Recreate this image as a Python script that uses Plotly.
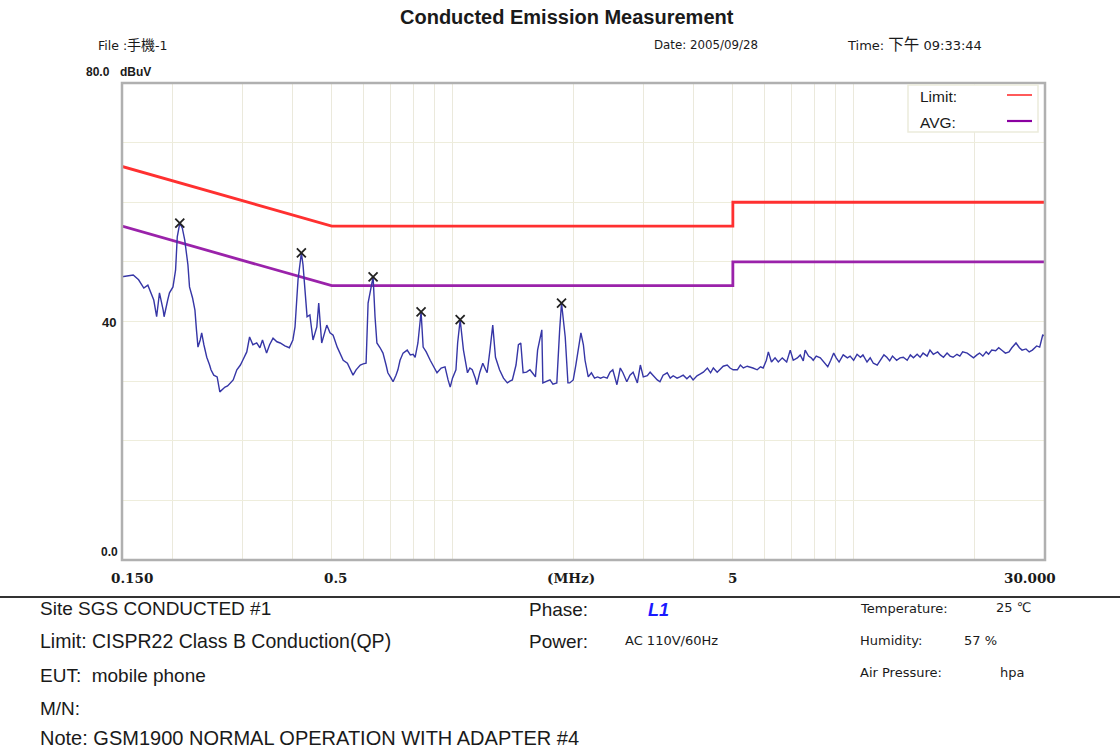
import math
import plotly.graph_objects as go

# ---- measured spectrum, L1 phase (MHz, dBuV) ----
meas_freq = [
    0.150, 0.155, 0.160, 0.165, 0.170, 0.174, 0.176, 0.180, 0.183, 0.186,
    0.190, 0.191, 0.195, 0.197, 0.201, 0.204, 0.206, 0.209, 0.212, 0.215,
    0.219, 0.221, 0.225, 0.228, 0.230, 0.232, 0.235, 0.237, 0.240, 0.244,
    0.248, 0.250, 0.254, 0.259, 0.263, 0.268, 0.271, 0.275, 0.279, 0.284,
    0.290, 0.296, 0.300, 0.307, 0.312, 0.318, 0.325, 0.331, 0.336, 0.344,
    0.350, 0.357, 0.365, 0.372, 0.382, 0.392, 0.400, 0.405, 0.412, 0.420,
    0.424, 0.427, 0.434, 0.441, 0.449, 0.459, 0.464, 0.472, 0.481, 0.486,
    0.495, 0.504, 0.516, 0.525, 0.534, 0.547, 0.555, 0.565, 0.575, 0.589,
    0.599, 0.609, 0.616, 0.627, 0.634, 0.641, 0.648, 0.660, 0.671, 0.683,
    0.690, 0.703, 0.711, 0.723, 0.731, 0.740, 0.753, 0.771, 0.785, 0.798,
    0.807, 0.820, 0.835, 0.845, 0.860, 0.880, 0.895, 0.915, 0.937, 0.958,
    0.975, 0.987, 1.000, 1.020, 1.030, 1.045, 1.065, 1.090, 1.105, 1.120,
    1.140, 1.150, 1.170, 1.190, 1.210, 1.220, 1.240, 1.260, 1.280, 1.310,
    1.340, 1.370, 1.390, 1.410, 1.440, 1.460, 1.480, 1.500, 1.530, 1.560,
    1.590, 1.610, 1.630, 1.670, 1.680, 1.710, 1.750, 1.780, 1.820, 1.850,
    1.870, 1.910, 1.940, 1.960, 2.000, 2.030, 2.060, 2.090, 2.120, 2.140,
    2.180, 2.220, 2.260, 2.300, 2.340, 2.380, 2.430, 2.470, 2.510, 2.570,
    2.620, 2.660, 2.720, 2.770, 2.820, 2.890, 2.940, 2.990, 3.060, 3.110,
    3.160, 3.240, 3.290, 3.350, 3.430, 3.490, 3.550, 3.630, 3.690, 3.760,
    3.840, 3.910, 3.980, 4.070, 4.150, 4.220, 4.320, 4.400, 4.470, 4.570,
    4.650, 4.730, 4.840, 4.920, 5.010, 5.130, 5.220, 5.310, 5.430, 5.520,
    5.610, 5.750, 5.860, 5.950, 6.060, 6.130, 6.240, 6.370, 6.490, 6.640,
    6.810, 6.950, 7.070, 7.240, 7.360, 7.490, 7.570, 7.720, 7.840, 7.930,
    8.070, 8.260, 8.420, 8.620, 8.770, 8.920, 9.050, 9.200, 9.420, 9.650,
    9.800, 10.00, 10.20, 10.40, 10.55, 10.80, 11.00, 11.20, 11.45, 11.65,
    11.90, 12.10, 12.30, 12.50, 12.80, 13.05, 13.30, 13.60, 13.85, 14.10,
    14.40, 14.65, 14.90, 15.25, 15.50, 15.80, 16.20, 16.45, 16.75, 17.10,
    17.40, 17.70, 18.10, 18.40, 18.70, 19.20, 19.50, 19.90, 20.30, 20.60,
    21.00, 21.40, 21.70, 22.10, 22.60, 23.00, 23.50, 23.90, 24.40, 24.80,
    25.40, 25.90, 26.30, 26.90, 27.40, 27.90, 28.60, 29.10, 29.60, 30.00,
]
meas_level = [
    47.5, 47.6, 47.8, 47.0, 45.6, 46.1, 45.3, 43.6, 40.8, 44.8,
    41.9, 40.8, 43.6, 44.8, 45.8, 48.6, 54.2, 56.5, 55.7, 53.7,
    49.5, 45.8, 43.9, 41.9, 38.6, 35.7, 36.9, 38.1, 36.1, 34.0,
    32.7, 31.9, 31.0, 30.7, 28.2, 28.8, 29.0, 29.2, 29.7, 30.2,
    31.9, 32.7, 33.5, 34.9, 37.4, 36.1, 36.4, 35.6, 36.9, 34.7,
    36.1, 37.2, 36.6, 36.4, 35.9, 35.6, 36.9, 39.1, 47.0, 51.5,
    49.5, 46.5, 40.8, 41.1, 36.9, 39.1, 43.1, 36.4, 38.6, 39.4,
    38.1, 37.7, 35.7, 34.7, 33.5, 33.0, 32.2, 31.0, 31.9, 32.7,
    32.9, 33.0, 43.1, 46.1, 47.5, 40.8, 36.4, 35.6, 34.7, 32.7,
    31.4, 30.5, 29.9, 31.0, 31.9, 33.5, 34.7, 35.2, 34.4, 34.5,
    34.0, 36.4, 41.6, 35.7, 34.9, 33.5, 32.5, 31.4, 32.2, 32.4,
    30.2, 29.0, 30.5, 31.9, 36.4, 40.3, 35.2, 31.4, 32.2, 31.9,
    30.5, 29.4, 31.5, 33.0, 31.9, 31.4, 35.2, 39.4, 34.0, 31.9,
    30.5, 29.7, 30.0, 30.2, 32.7, 36.1, 36.4, 31.4, 31.5, 31.9,
    31.2, 30.7, 35.2, 38.6, 29.7, 29.9, 30.2, 29.5, 29.7, 38.6,
    43.1, 37.4, 29.7, 29.7, 30.2, 32.7, 35.2, 38.1, 36.1, 33.5,
    30.7, 31.4, 30.5, 30.7, 30.5, 30.7, 30.5, 31.5, 31.9, 29.4,
    32.2, 31.4, 29.9, 31.0, 31.5, 29.7, 32.7, 30.7, 30.9, 31.5,
    31.0, 30.2, 29.9, 31.0, 31.4, 30.5, 30.9, 30.5, 30.7, 31.0,
    30.4, 30.9, 30.2, 30.9, 31.2, 31.5, 32.2, 31.4, 32.2, 31.5,
    32.0, 32.5, 32.7, 32.2, 31.9, 31.9, 32.7, 32.2, 32.5, 32.4,
    32.2, 31.9, 32.4, 32.2, 33.5, 34.9, 33.2, 33.9, 33.2, 33.9,
    33.2, 35.2, 33.5, 33.9, 34.4, 33.4, 35.2, 34.2, 33.9, 33.5,
    34.2, 33.9, 33.2, 32.4, 33.5, 34.7, 33.9, 33.2, 34.4, 33.9,
    34.2, 33.5, 34.5, 34.0, 34.4, 33.2, 33.9, 33.0, 32.7, 33.5,
    34.4, 34.0, 33.4, 34.2, 33.5, 33.9, 34.0, 33.5, 34.4, 33.9,
    34.5, 34.0, 34.7, 34.2, 35.2, 34.5, 34.9, 34.4, 34.0, 34.7,
    34.2, 34.0, 34.5, 34.2, 34.9, 34.7, 34.4, 33.9, 34.4, 34.7,
    34.2, 34.9, 34.5, 35.2, 35.1, 35.6, 35.1, 34.7, 34.9, 35.6,
    36.4, 35.6, 35.2, 35.4, 34.9, 35.2, 35.9, 35.7, 37.7, 37.6,
]

# ---- marked peaks ----
peak_freq = [0.209, 0.420, 0.634, 0.835, 1.045, 1.870]
peak_level = [56.5, 51.5, 47.5, 41.6, 40.3, 43.1]

# ---- CISPR22 Class B limits ----
limit_freq = [0.15, 0.5, 0.5, 5.0, 5.0, 30.0]
qp_limit = [66, 56, 56, 56, 60, 60]
avg_limit = [56, 46, 46, 46, 50, 50]

grid_freqs = [0.2, 0.3, 0.4, 0.5, 0.6, 0.7, 0.8, 0.9, 1, 2, 3, 4, 5, 6, 7, 8, 9, 10, 20]

# plot-area placement in window pixels
L, R, T, B = 122, 1045, 83, 560
W, H = 1120, 751


def px(x):
    return (x - L) / (R - L)


def py(y):
    return (B - y) / (B - T)


SANS = "Liberation Sans, Arial, Noto Sans CJK TC, sans-serif"
WIDE = "DejaVu Sans, Noto Sans CJK TC, sans-serif"
AXIS = "DejaVu Serif, serif"

fig = go.Figure()
fig.add_trace(go.Scatter(x=limit_freq, y=qp_limit, mode="lines",
                         line=dict(color="#ff3030", width=2.8), hoverinfo="skip"))
fig.add_trace(go.Scatter(x=limit_freq, y=avg_limit, mode="lines",
                         line=dict(color="#9a22aa", width=2.8), hoverinfo="skip"))
fig.add_trace(go.Scatter(x=meas_freq, y=meas_level, mode="lines",
                         line=dict(color="#3636a6", width=1.4)))
fig.add_trace(go.Scatter(x=peak_freq, y=peak_level, mode="markers",
                         marker=dict(symbol="x-thin", size=9,
                                     line=dict(color="#222222", width=1.8))))

shapes = [
    # frame
    dict(type="rect", xref="paper", yref="paper", x0=0, x1=1, y0=0, y1=1,
         line=dict(color="#b0b0b0", width=2.5)),
    # legend box
    dict(type="rect", xref="paper", yref="paper",
         x0=px(908), x1=px(1038), y0=py(132), y1=py(85),
         line=dict(color="#ecebdc", width=1.5), fillcolor="white"),
    dict(type="line", xref="paper", yref="paper",
         x0=px(1007), x1=px(1032), y0=py(95), y1=py(95),
         line=dict(color="#ff4848", width=1.8)),
    dict(type="line", xref="paper", yref="paper",
         x0=px(1007), x1=px(1032), y0=py(121), y1=py(121),
         line=dict(color="#8a00a0", width=2.2)),
    # separator above the info block
    dict(type="line", xref="paper", yref="paper",
         x0=px(0), x1=px(W), y0=py(597), y1=py(597),
         line=dict(color="#333333", width=2)),
]

annotations = []


def text(x, y, s, size=12, bold=False, anchor="left", color="#1a1a1a",
         italic=False, family=SANS):
    if bold:
        s = "<b>" + s + "</b>"
    if italic:
        s = "<i>" + s + "</i>"
    annotations.append(dict(x=px(x), y=py(y), xref="paper", yref="paper", text=s,
                            showarrow=False, xanchor=anchor, yanchor="middle",
                            font=dict(size=size, color=color, family=family)))


text(567, 17, "Conducted Emission Measurement", size=20, bold=True, anchor="center")
text(96, 45, "File :<span style='font-size:14px'>手機</span>-1", size=12.5, family=WIDE)
text(652, 45, "Date: 2005/09/28", size=11.8, family=WIDE)
text(845, 45, "Time: <span style='font-size:15.5px'>下午</span> 09:33:44", size=13, family=WIDE)

# y-axis labels
text(84, 72, "80.0", size=12, bold=True)
text(118, 72, "dBuV", size=12, bold=True)
text(118, 322, "40", size=13, bold=True, anchor="right")
text(120, 552, "0.0", size=12, bold=True, anchor="right")

# x-axis labels
text(132, 578, "0.150", size=13.5, bold=True, anchor="center", family=AXIS)
text(336, 578, "0.5", size=13.5, bold=True, anchor="center", family=AXIS)
text(571, 578, "(MHz)", size=13.5, bold=True, anchor="center", family=AXIS)
text(732, 578, "5", size=13.5, bold=True, anchor="center", family=AXIS)
text(1030, 578, "30.000", size=13.5, bold=True, anchor="center", family=AXIS)

# legend entries
text(918, 96, "Limit:", size=15.5)
text(918, 122, "AVG:", size=15.5)

# information block
text(38, 608, "Site SGS CONDUCTED #1", size=19)
text(38, 641, "Limit: CISPR22 Class B Conduction(QP)", size=19.5)
text(38, 675, "EUT:  mobile phone", size=19)
text(38, 708, "M/N:", size=19)
text(38, 738, "Note: GSM1900 NORMAL OPERATION WITH ADAPTER #4", size=20)
text(527, 609, "Phase:", size=19)
text(646, 610, "L1", size=18, bold=True, italic=True, color="#1a1aff")
text(527, 641, "Power:", size=19)
text(623, 640, "AC 110V/60Hz", size=13, family=WIDE)
text(858, 608, "Temperature:", size=13, family=WIDE)
text(994, 607, "25 ℃", size=13, family=WIDE)
text(858, 640, "Humidity:", size=13, family=WIDE)
text(962, 640, "57 %", size=13, family=WIDE)
text(858, 672, "Air Pressure:", size=13, family=WIDE)
text(998, 672, "hpa", size=13, family=WIDE)

fig.update_layout(
    width=W, height=H,
    margin=dict(l=L, r=W - R, t=T, b=H - B, pad=0),
    paper_bgcolor="white", plot_bgcolor="white",
    showlegend=False,
    shapes=shapes,
    annotations=annotations,
    xaxis=dict(type="log", range=[math.log10(0.15), math.log10(30)],
               tickvals=grid_freqs, showticklabels=False, ticks="",
               showgrid=True, gridcolor="#ebe9dc", gridwidth=1.2,
               zeroline=False, showline=False, fixedrange=True),
    yaxis=dict(range=[0, 80], dtick=10, tick0=0, showticklabels=False, ticks="",
               showgrid=True, gridcolor="#eeeddc", gridwidth=1.2,
               zeroline=False, showline=False, fixedrange=True),
)

fig.write_html("out.html")
